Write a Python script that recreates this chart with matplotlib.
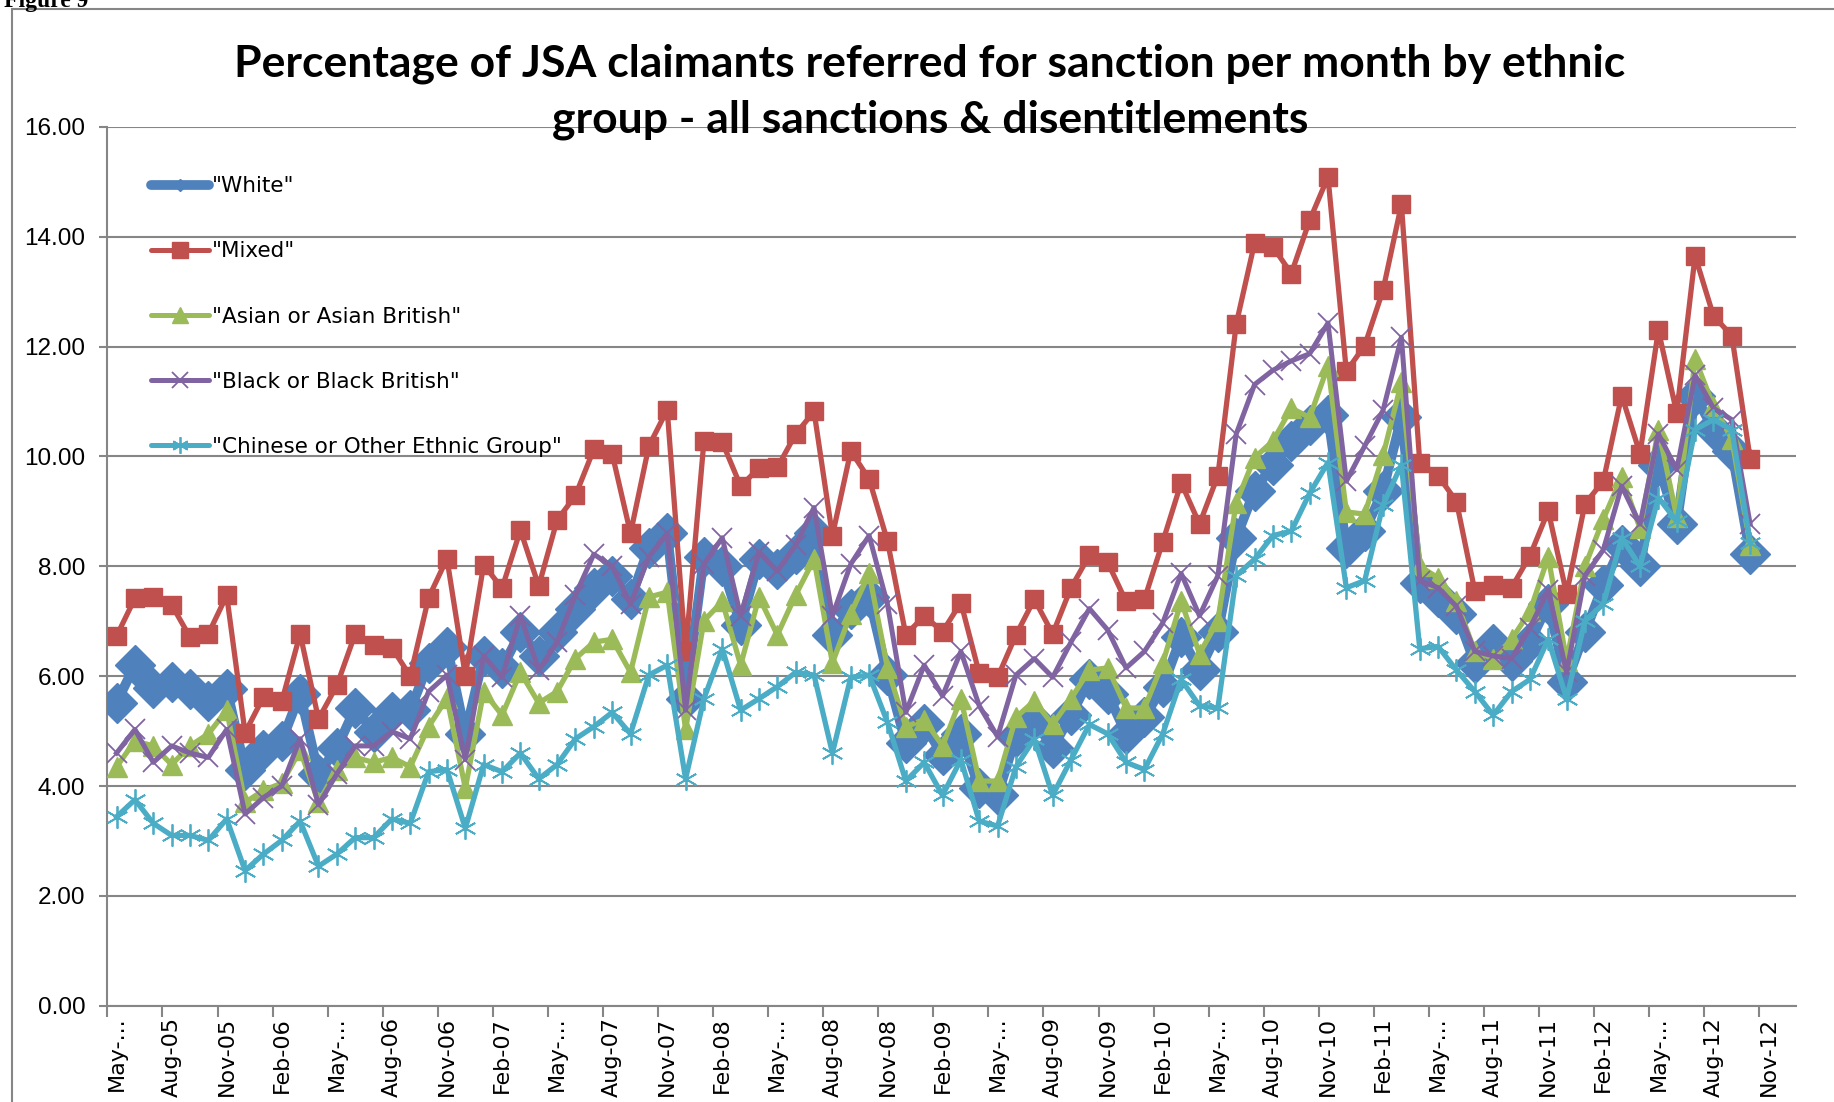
import numpy as np
import matplotlib
matplotlib.use("Agg")
import matplotlib.pyplot as plt
from matplotlib.lines import Line2D
from matplotlib.patches import Rectangle
from matplotlib.ticker import NullFormatter, FixedLocator


OUTPUT_PATH = "out.png"

# Monthly values, May-05 .. Oct-12 (90 months)
white = [5.52, 6.2, 5.78, 5.89, 5.77, 5.55, 5.77, 4.3, 4.65, 4.82,
         5.68, 4.22, 4.69, 5.42, 4.99, 5.34, 5.38, 6.24, 6.54, 4.95,
         6.37, 6.15, 6.8, 6.37, 6.8, 7.23, 7.61, 7.83, 7.4, 8.34,
         8.6, 5.59, 8.17, 8.0, 6.93, 8.13, 7.96, 8.22, 8.6, 6.75,
         7.23, 7.44, 6.02, 4.78, 5.12, 4.56, 4.95, 3.96, 3.83, 4.9,
         5.2, 4.69, 5.29, 5.94, 5.68, 4.95, 5.25, 5.81, 6.71, 6.11,
         6.8, 8.52, 9.38, 9.85, 10.28, 10.58, 10.75, 8.34, 8.64, 9.38,
         10.71, 7.7, 7.44, 7.14, 6.24, 6.58, 6.28, 6.62, 7.31, 5.89,
         6.8, 7.66, 8.39, 8.0, 9.85, 8.77, 11.1, 10.5, 10.1, 8.22]

mixed = [6.73, 7.42, 7.44, 7.3, 6.71, 6.77, 7.47, 4.97, 5.62, 5.54,
         6.77, 5.22, 5.83, 6.77, 6.56, 6.52, 6.0, 7.43, 8.14, 6.01,
         8.03, 7.6, 8.66, 7.64, 8.84, 9.29, 10.13, 10.05, 8.6, 10.19,
         10.85, 6.45, 10.28, 10.26, 9.46, 9.79, 9.8, 10.41, 10.82, 8.56,
         10.1, 9.59, 8.46, 6.75, 7.1, 6.81, 7.34, 6.05, 5.98, 6.75,
         7.4, 6.77, 7.61, 8.2, 8.07, 7.36, 7.4, 8.45, 9.52, 8.77,
         9.65, 12.41, 13.89, 13.82, 13.33, 14.3, 15.09, 11.55, 12.02, 13.03,
         14.59, 9.89, 9.65, 9.18, 7.55, 7.66, 7.61, 8.19, 9.01, 7.5,
         9.14, 9.55, 11.11, 10.05, 12.3, 10.79, 13.65, 12.56, 12.2, 9.96]

asian = [4.35, 4.82, 4.73, 4.39, 4.73, 4.95, 5.38, 3.7, 3.92, 4.05,
         4.65, 3.7, 4.3, 4.52, 4.43, 4.52, 4.35, 5.08, 5.6, 3.96,
         5.72, 5.29, 6.07, 5.51, 5.72, 6.32, 6.62, 6.67, 6.07, 7.44,
         7.53, 5.03, 7.01, 7.36, 6.2, 7.44, 6.75, 7.48, 8.13, 6.24,
         7.14, 7.87, 6.15, 5.08, 5.21, 4.73, 5.59, 4.09, 4.09, 5.25,
         5.55, 5.12, 5.59, 6.11, 6.15, 5.42, 5.42, 6.24, 7.36, 6.41,
         7.01, 9.16, 9.98, 10.28, 10.88, 10.71, 11.65, 8.99, 8.95, 10.02,
         11.35, 8.0, 7.79, 7.36, 6.45, 6.32, 6.67, 7.18, 8.17, 6.28,
         8.0, 8.86, 9.63, 8.69, 10.49, 8.9, 11.78, 10.92, 10.32, 8.39]

black = [4.6, 5.03, 4.43, 4.73, 4.6, 4.52, 5.03, 3.49, 3.79, 4.0,
         4.86, 3.66, 4.22, 4.73, 4.73, 4.99, 4.86, 5.72, 6.02, 4.48,
         6.37, 5.98, 7.1, 6.11, 6.62, 7.48, 8.22, 8.0, 7.31, 8.17,
         8.6, 5.38, 8.04, 8.52, 7.1, 8.26, 7.91, 8.39, 9.07, 7.1,
         8.04, 8.56, 7.31, 5.34, 6.2, 5.64, 6.45, 5.46, 4.9, 6.02,
         6.32, 5.98, 6.62, 7.23, 6.84, 6.15, 6.45, 6.97, 7.87, 7.1,
         7.83, 10.41, 11.31, 11.57, 11.74, 11.87, 12.43, 9.55, 10.19, 10.84,
         12.17, 7.74, 7.61, 7.27, 6.45, 6.37, 6.32, 6.88, 7.57, 6.07,
         7.83, 8.3, 9.46, 8.77, 10.41, 9.76, 11.48, 10.88, 10.67, 8.77]

chinese = [3.44, 3.75, 3.32, 3.1, 3.1, 3.01, 3.4, 2.46, 2.76, 3.01,
           3.36, 2.54, 2.76, 3.06, 3.06, 3.4, 3.32, 4.26, 4.3, 3.23,
           4.39, 4.26, 4.6, 4.13, 4.39, 4.86, 5.08, 5.34, 4.95, 6.02,
           6.2, 4.13, 5.59, 6.5, 5.38, 5.59, 5.81, 6.07, 6.02, 4.6,
           5.98, 6.02, 5.16, 4.09, 4.43, 3.83, 4.48, 3.36, 3.27, 4.35,
           4.86, 3.83, 4.48, 5.12, 4.95, 4.43, 4.3, 4.95, 5.94, 5.46,
           5.42, 7.83, 8.13, 8.56, 8.64, 9.33, 9.89, 7.61, 7.74, 9.12,
           9.85, 6.5, 6.54, 6.11, 5.72, 5.29, 5.72, 5.94, 6.67, 5.59,
           7.01, 7.31, 8.52, 8.0, 9.25, 8.82, 10.49, 10.67, 10.49, 8.43]

series_names = ['"White"', '"Mixed"', '"Asian or Asian British"',
                '"Black or Black British"', '"Chinese or Other Ethnic Group"']

tick_labels = ["May-...", "Aug-05", "Nov-05", "Feb-06", "May-...", "Aug-06",
               "Nov-06", "Feb-07", "May-...", "Aug-07", "Nov-07", "Feb-08",
               "May-...", "Aug-08", "Nov-08", "Feb-09", "May-...", "Aug-09",
               "Nov-09", "Feb-10", "May-...", "Aug-10", "Nov-10", "Feb-11",
               "May-...", "Aug-11", "Nov-11", "Feb-12", "May-...", "Aug-12",
               "Nov-12"]

GREY = "#868686"
STAR = (6, 2, 0)


def main():
    fig = plt.figure(figsize=(18.34, 11.02), dpi=100)
    ax = fig.add_axes([0.05856, 0.0874, 0.92074, 0.7974])

    x = np.arange(len(white))

    # data, colour, marker, size, line width, edge width
    styles = [
        (white, "#4F81BD", "D", 20, 7.0, 1.0),
        (mixed, "#C0504D", "s", 13.5, 3.8, 1.0),
        (asian, "#9BBB59", "^", 14, 3.8, 1.0),
        (black, "#8064A2", "x", 14, 3.6, 1.3),
        (chinese, "#4BACC6", STAR, 16, 3.8, 1.3),
    ]

    for z, (data, color, marker, ms, lw, mew) in enumerate(styles):
        ax.plot(x, data, color=color, lw=lw, marker=marker, markersize=ms,
                markerfacecolor=color, markeredgecolor=color,
                markeredgewidth=mew, zorder=3 + z, solid_joinstyle="round")

    ax.set_xlim(-0.5, 91.5)
    ax.set_ylim(0, 16)

    # y axis
    ax.set_yticks(np.arange(0, 17, 2))
    ax.set_yticklabels([f"{v:.2f}" for v in np.arange(0, 17, 2)],
                       family="Liberation Sans", fontsize=17.5)
    ax.tick_params(axis="y", length=6, width=1.5, color=GREY, pad=10)
    ax.yaxis.grid(True, color=GREY, lw=1.5)
    ax.set_axisbelow(True)

    # x axis: tick marks between groups, labels at group start
    ax.xaxis.set_major_locator(FixedLocator(np.arange(-0.5, 90, 3)))
    ax.xaxis.set_major_formatter(NullFormatter())
    ax.set_xticks(np.arange(0, 91, 3), minor=True)
    ax.set_xticklabels(tick_labels, minor=True, rotation=90, fontsize=16,
                       family="DejaVu Sans")
    ax.tick_params(axis="x", which="major", length=8, width=1.5, color=GREY)
    ax.tick_params(axis="x", which="minor", length=0, pad=8)

    for side in ["top", "right"]:
        ax.spines[side].set_visible(False)
    for side in ["left", "bottom"]:
        ax.spines[side].set_color(GREY)
        ax.spines[side].set_linewidth(1.5)

    # legend with Excel-like handles
    handles = []
    for z, (data, color, marker, ms, lw, mew) in enumerate(styles):
        size = 6 if z == 0 else 12
        handles.append(Line2D([0], [0], color=color, lw=lw if z == 0 else 3.6,
                              marker=marker, markersize=size,
                              markerfacecolor=color, markeredgecolor=color,
                              markeredgewidth=mew, solid_capstyle="round"))
    ax.legend(handles, series_names, loc="upper left",
              bbox_to_anchor=(0.026, 0.944), frameon=False,
              prop={"family": "DejaVu Sans", "size": 15.5},
              labelspacing=2.1, handlelength=2.7, handletextpad=0.1,
              borderpad=0, borderaxespad=0)

    fig.text(0.507, 0.9167,
             "Percentage of JSA claimants referred for sanction per month by ethnic\n"
             "group - all sanctions & disentitlements",
             ha="center", va="center", fontsize=32, fontweight="bold",
             family="Lato", linespacing=1.47)

    fig.text(0.002, 1 - 7 / 1102, "Figure 9", ha="left", va="baseline",
             fontsize=17, fontweight="bold", family="Liberation Serif")

    fig.add_artist(Rectangle((11.7 / 1834, -0.1), 1.2, 0.9915 + 0.1,
                             transform=fig.transFigure, fill=False,
                             edgecolor=GREY, lw=1.5))

    fig.savefig(OUTPUT_PATH, dpi=100)
    plt.close(fig)


if __name__ == "__main__":
    main()
